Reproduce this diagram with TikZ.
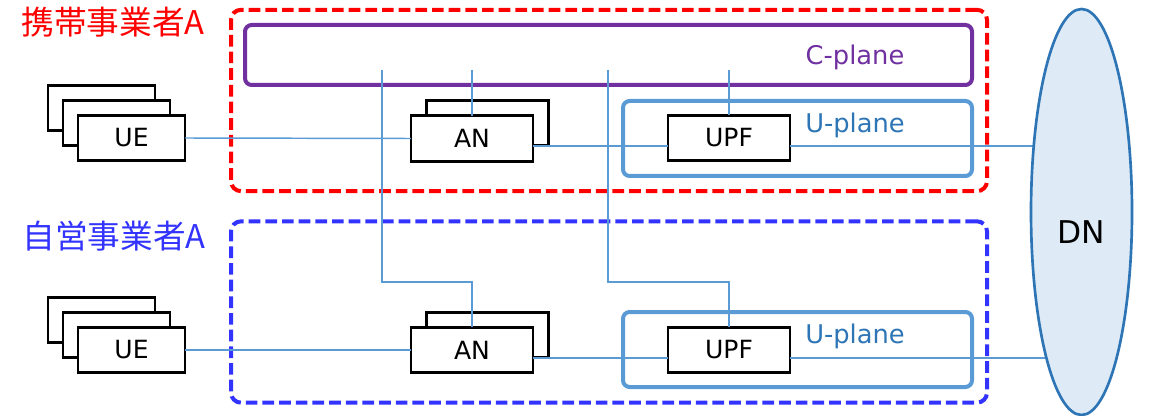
\documentclass[tikz,border=0pt]{standalone}
\usepackage{fontspec}
\setmainfont{DejaVu Sans}
\newfontfamily\jpfont{Noto Sans CJK JP}
\usetikzlibrary{shapes.geometric}
\definecolor{opred}{HTML}{FF0000}
\definecolor{opblue}{HTML}{3333FF}
\definecolor{cpl}{HTML}{7030A0}
\definecolor{upl}{HTML}{5B9BD5}
\definecolor{upltext}{HTML}{2E75B6}
\definecolor{dnfill}{HTML}{DEEBF7}
\definecolor{dnline}{HTML}{2E75B6}
\begin{document}
\begin{tikzpicture}[x=0.75pt,y=-0.75pt,
  domain/.style={draw=#1, line width=3pt, dash pattern=on 8.75pt off 3.75pt,
    rounded corners=7.5pt, inner sep=0, outer sep=0,
    minimum width=567pt, minimum height=136pt},
  plane/.style={draw=#1, line width=3pt, rounded corners=5pt,
    inner sep=0, outer sep=0},
  devbox/.style={draw=black, line width=2.2pt, fill=white, inner sep=0,
    outer sep=0, minimum height=34pt, font=\fontsize{18.8}{20}\selectfont},
  uebox/.style={devbox, minimum width=80.25pt},
  nfbox/.style={devbox, minimum width=91.5pt},
  link/.style={draw=upl, line width=1.1pt},
  lbl/.style={inner sep=0, font=\fontsize{19.3}{21}\selectfont},
  oplabel/.style={inner sep=0, font=\jpfont\fontsize{24.5}{26}\selectfont}]
\useasboundingbox (0,0) rectangle (1151,416);

% operator domains
\node[domain=opred]  (mno) at (609,100.5) {};
\node[domain=opblue] (pvt) at (609,312) {};
\node[oplabel, text=opred]  (mnolbl) at (113,22)  {携帯事業者A};
\node[oplabel, text=opblue] (pvtlbl) at (114,236) {自営事業者A};

% control and user planes
\node[plane=cpl, minimum width=545.25pt, minimum height=45pt] (cp) at (608.5,55) {};
\node[lbl, text=cpl] (cplbl) at (855,57) {C-plane};
\node[plane=upl, minimum width=261.75pt, minimum height=56.25pt] (up1) at (797.5,138.5) {};
\node[plane=upl, minimum width=261.75pt, minimum height=56.25pt] (up2) at (797.5,349.5) {};
\node[lbl, text=upltext] (up1lbl) at (855,125) {U-plane};
\node[lbl, text=upltext] (up2lbl) at (855,336) {U-plane};

% UE stacks
\node[uebox] (ue1c) at (101.5,108) {};
\node[uebox] (ue1b) at (116.5,123) {};
\node[uebox] (ue1)  at (131.5,138) {UE};
\node[uebox] (ue2c) at (101.5,320) {};
\node[uebox] (ue2b) at (116.5,335) {};
\node[uebox] (ue2)  at (131.5,350) {UE};

% access nodes
\node[nfbox] (an1b) at (487.5,123) {};
\node[nfbox] (an1)  at (472,138.5) {AN};
\node[nfbox] (an2b) at (487.5,335) {};
\node[nfbox] (an2)  at (472,350) {AN};

% user plane functions
\node[nfbox] (upf1) at (729,138) {UPF};
\node[nfbox] (upf2) at (729,350) {UPF};

% data network centre
\coordinate (dnc) at (1081.5,212);

% control plane taps
\coordinate (t1) at (382,70);
\coordinate (t2) at (472,70);
\coordinate (t3) at (608,70);
\coordinate (t4) at (729,70);
\coordinate (j1) at (472,282);
\coordinate (j2) at (729,282);

\draw[link] (t2) -- (an1.north);
\draw[link] (t4) -- (upf1.north);
\draw[link] (t1) |- (j1) -- (an2.north);
\draw[link] (t3) |- (j2) -- (upf2.north);

% user plane paths
\draw[link] (ue1.east) -- (an1.west);
\draw[link] ([yshift=-5.6pt]an1.east) -- ([yshift=-5.6pt]an1.east -| upf1.west);
\draw[link] ([yshift=-6pt]upf1.east) -- ([yshift=-6pt]upf1.east -| dnc);
\draw[link] (ue2.east) -- (an2.west);
\draw[link] ([yshift=-6pt]an2.east) -- ([yshift=-6pt]an2.east -| upf2.west);
\draw[link] ([yshift=-6pt]upf2.east) -- ([yshift=-6pt]upf2.east -| dnc);

% data network
\node[ellipse, draw=dnline, fill=dnfill, line width=2pt, inner sep=0,
  minimum width=75.75pt, minimum height=304.5pt] (dn) at (dnc) {};
\node[inner sep=0, font=\fontsize{23.5}{25}\selectfont] (dnlbl) at (1081.5,232) {DN};
\end{tikzpicture}
\end{document}
